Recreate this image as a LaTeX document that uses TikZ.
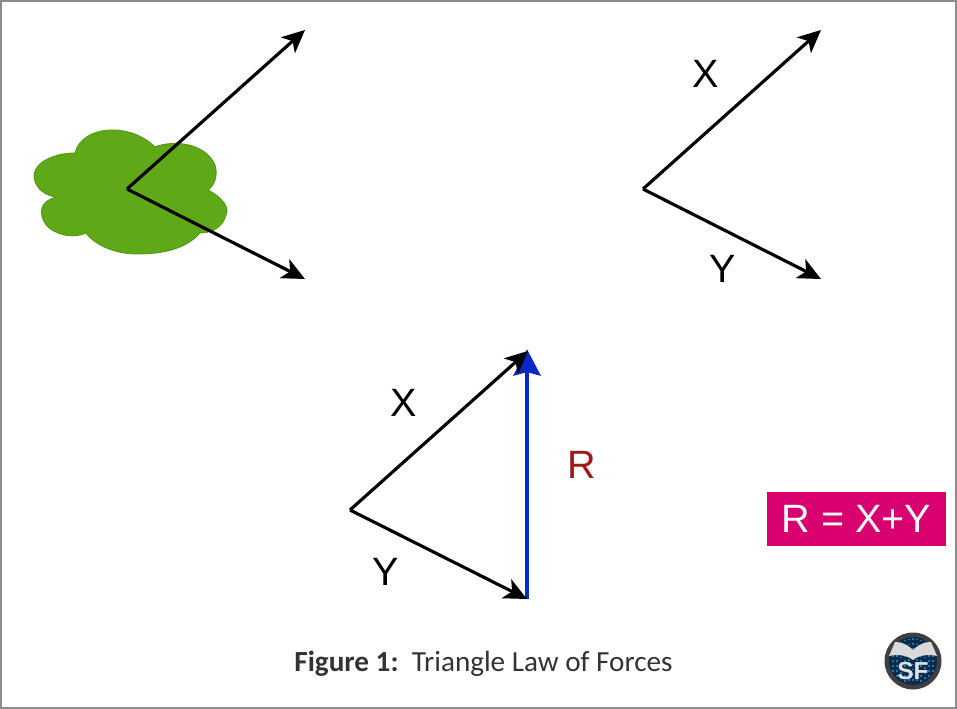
\documentclass[tikz,border=0pt]{standalone}
\usepackage{fontspec}
\setmainfont{Liberation Sans}
\newfontfamily\capfont{Carlito}
\usetikzlibrary{arrows.meta}
\definecolor{leafgreen}{HTML}{5FA818}
\definecolor{leafedge}{HTML}{4E9A10}
\definecolor{resblue}{HTML}{0A28C8}
\definecolor{resred}{HTML}{A01818}
\definecolor{boxpink}{HTML}{D9006F}
\definecolor{framegray}{HTML}{8C8C8C}
\definecolor{badgeblue}{HTML}{0C2A4A}
\definecolor{badgedot}{HTML}{1F78B4}
\begin{document}
\begin{tikzpicture}[x=0.02cm,y=-0.02cm,%
% common options for the forces:
force/.style = {draw=black, line width=1.8pt, -{Stealth[length=13pt,width=12pt,inset=3.5pt]}},
result/.style = {draw=resblue, line width=2.1pt, shorten >=-1pt, -{Stealth[length=15pt,width=15.5pt,inset=2pt]}},
% common options for the labels:
letter/.style = {font=\fontsize{22.5}{24}\selectfont, inner sep=0}]
\useasboundingbox (0,0) rectangle (957,709);
\draw[framegray, line width=1.2pt] (1,1) rectangle (956,708);
% the body
\draw[fill=leafgreen, draw=leafedge, line width=0.5pt] (75,153)
  .. controls (82,125) and (130,122) .. (155,147)
  .. controls (172,140) and (205,142) .. (215,165)
  .. controls (218,175) and (215,185) .. (208,190)
  .. controls (222,197) and (230,208) .. (226,215)
  .. controls (223,227) and (212,233) .. (200,233)
  .. controls (185,250) and (160,254) .. (137,254)
  .. controls (115,254) and (95,245) .. (86,233)
  .. controls (75,238) and (62,236) .. (52,230)
  .. controls (42,224) and (38,210) .. (45,203)
  .. controls (48,200) and (52,198) .. (57,197)
  .. controls (45,196) and (34,188) .. (34,175)
  .. controls (35,162) and (55,153) .. (75,153) -- cycle;
% first group
\coordinate (O1) at (127,189);
\coordinate (X1) at (305,30);
\coordinate (Y1) at (305,279);
\draw[force] (O1) -- (X1);
\draw[force] (O1) -- (Y1);
% second group
\coordinate (O2) at (643,189);
\coordinate (X2) at (821,30);
\coordinate (Y2) at (821,279);
\draw[force] (O2) -- (X2);
\draw[force] (O2) -- (Y2);
\node[letter] (LX2) at (706,74) {X};
\node[letter] (LY2) at (723,269) {Y};
% the triangle
\coordinate (O3) at (350,510);
\coordinate (X3) at (528,351);
\coordinate (Y3) at (527,599);
\coordinate (T3) at (527,351);
\draw[result] (Y3) -- (T3);
\draw[force] (O3) -- (X3);
\draw[force] (O3) -- (Y3);
\node[letter] (LX3) at (404,403) {X};
\node[letter] (LY3) at (386,572) {Y};
\node[letter, text=resred] (LR) at (582,465) {R};
\node[letter, fill=boxpink, text=white, minimum width=179*0.02cm, minimum height=54*0.02cm] (Sum) at (856.5,519) {R = X+Y};
\node[font=\capfont\fontsize{16.6}{18}\selectfont, text=black!80, inner sep=0] (Cap) at (483.5,663.5) {\textbf{Figure 1:}\ \ Triangle Law of Forces};
% the badge
\node[circle, fill=black!75, minimum size=57*0.02cm, inner sep=0] (Badge) at (913,661) {};
\node[circle, fill=badgeblue, minimum size=48*0.02cm, inner sep=0] (Inner) at (913,661) {};
\foreach \i in {-20,-16,...,20}
  \draw[badgedot, line width=0.9pt, dotted] (913+\i,{661-sqrt(520-\i*\i)}) -- (913+\i,{661+sqrt(520-\i*\i)});
\fill[white!85!black] (913,650) .. controls (906,643) and (899,642) .. (895,642)
  -- (889,656) .. controls (897,654) and (907,655) .. (913,660)
  .. controls (919,655) and (929,654) .. (937,656) -- (931,642)
  .. controls (927,642) and (920,643) .. (913,650) -- cycle;
\node[font=\bfseries\fontsize{14}{14}\selectfont, text=white!88!black, inner sep=0] (Mark) at (913,671) {SF};
\end{tikzpicture}
\end{document}
